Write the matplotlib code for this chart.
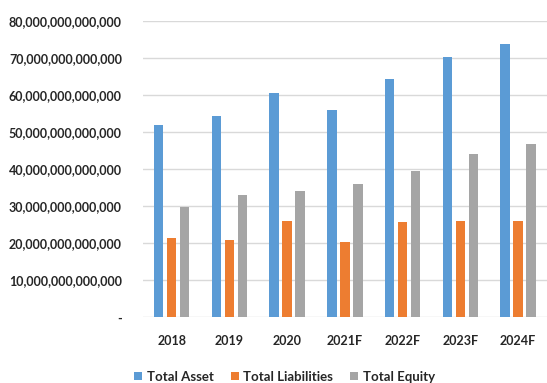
import numpy as np
import matplotlib
matplotlib.use("Agg")
import matplotlib.pyplot as plt
from matplotlib.ticker import FuncFormatter, MultipleLocator

plt.rcParams['font.family'] = ['Lato', 'DejaVu Sans']

years = ["2018", "2019", "2020", "2021F", "2022F", "2023F", "2024F"]
# values in trillions
total_asset = [51.8, 54.3, 60.7, 56.0, 64.3, 70.2, 73.9]
total_liabilities = [21.5, 20.8, 26.1, 20.4, 25.8, 26.1, 26.1]
total_equity = [29.9, 33.1, 34.1, 36.1, 39.5, 44.1, 46.9]

series = [
    ("Total Asset", total_asset, "#5B9BD5"),
    ("Total Liabilities", total_liabilities, "#ED7D31"),
    ("Total Equity", total_equity, "#A5A5A5"),
]

fig = plt.figure(figsize=(5.47, 3.83), dpi=100)
ax = fig.add_axes([0.261, 0.1715, 0.739, 0.7735])

x = np.arange(len(years))
step = 0.224
width = 0.165
for i, (name, vals, col) in enumerate(series):
    ax.bar(x + (i - 1) * step, np.array(vals) * 1e12, width, color=col, label=name, zorder=3)

ax.set_xlim(-0.5, len(years) - 0.5)
ax.set_ylim(0, 80e12)
ax.yaxis.set_major_locator(MultipleLocator(10e12))

def fmt(v, pos):
    if v == 0:
        return "-"
    return "{:,}".format(int(round(v)))

ax.yaxis.set_major_formatter(FuncFormatter(fmt))
ax.grid(axis='y', color='#D9D9D9', linewidth=1, zorder=0)
for s in ax.spines.values():
    s.set_visible(False)
ax.tick_params(length=0, labelsize=9, colors='#262626')
ax.tick_params(axis='y', pad=15)
ax.tick_params(axis='x', pad=13)
ax.set_xticks(x)
ax.set_xticklabels(years)
for t in ax.get_xticklabels() + ax.get_yticklabels():
    t.set_fontweight('bold')

fig.legend(loc='center', bbox_to_anchor=(0.52, 0.016), ncol=3, frameon=False,
           handlelength=0.6, handleheight=0.6, handletextpad=0.35, columnspacing=1.3,
           prop={'weight': 'bold', 'size': 9.5}, labelcolor='#262626')

fig.savefig("out.png", dpi=100)
